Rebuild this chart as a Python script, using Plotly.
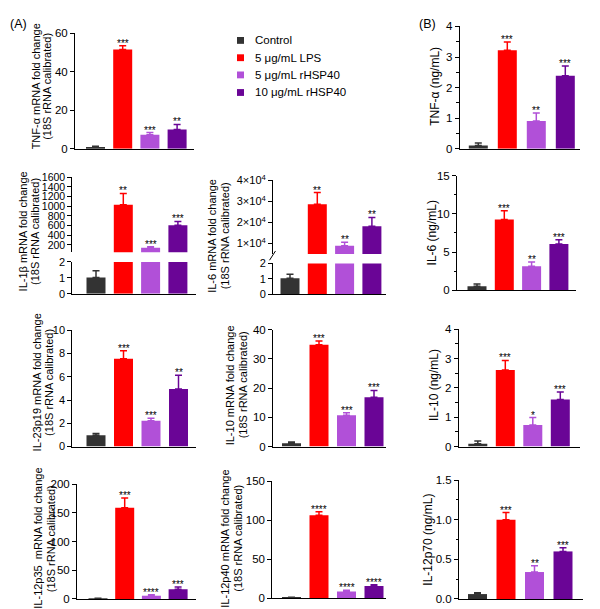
import plotly.graph_objects as go

W, H = 600, 609
FONT = "Arial, 'Liberation Sans', sans-serif"

# ---------------- data ----------------
groups = ["Control", "5 μg/mL LPS", "5 μg/mL rHSP40", "10 μg/mL rHSP40"]
colors = ["#333333", "#FF0000", "#B150D8", "#6A0596"]

tnf_mrna = [1.0, 51.6, 7.3, 10.1]
tnf_mrna_err = [0.3, 1.9, 1.2, 2.6]
tnf_mrna_sig = ["", "***", "***", "**"]

il1b_mrna = [1.02, 1028, 139, 605]
il1b_mrna_err = [0.43, 235, 25, 80]
il1b_mrna_sig = ["", "**", "***", "***"]

il6_mrna = [1.04, 28600, 8900, 18200]
il6_mrna_err = [0.26, 5600, 1600, 4200]
il6_mrna_sig = ["", "**", "**", "**"]

il23_mrna = [0.98, 7.56, 2.21, 4.96]
il23_mrna_err = [0.14, 0.68, 0.23, 1.17]
il23_mrna_sig = ["", "***", "***", "**"]

il10_mrna = [1.1, 34.8, 10.7, 16.9]
il10_mrna_err = [0.45, 1.3, 0.9, 2.3]
il10_mrna_sig = ["", "***", "***", "***"]

il12p35_mrna = [1.1, 159, 5.7, 17]
il12p35_mrna_err = [0.3, 17, 1.7, 4]
il12p35_mrna_sig = ["", "***", "****", "***"]

il12p40_mrna = [0.8, 106, 8.4, 15.5]
il12p40_mrna_err = [0.3, 4.7, 1.6, 1.6]
il12p40_mrna_sig = ["", "****", "****", "****"]

tnf_prot = [0.11, 3.22, 0.91, 2.39]
tnf_prot_err = [0.08, 0.27, 0.26, 0.32]
tnf_prot_sig = ["", "***", "**", "***"]

il6_prot = [0.51, 9.25, 3.15, 6.05]
il6_prot_err = [0.3, 1.15, 0.56, 0.55]
il6_prot_sig = ["", "***", "**", "***"]

il10_prot = [0.1, 2.61, 0.74, 1.61]
il10_prot_err = [0.09, 0.33, 0.25, 0.25]
il10_prot_sig = ["", "***", "*", "***"]

il12p70_prot = [0.062, 1.0, 0.34, 0.6]
il12p70_prot_err = [0.016, 0.09, 0.08, 0.045]
il12p70_prot_sig = ["", "***", "**", "***"]

il6_upper_ticks = [10000, 20000, 30000, 40000]
il6_upper_ticktext = ["1×10<sup>4</sup>", "2×10<sup>4</sup>", "3×10<sup>4</sup>", "4×10<sup>4</sup>"]

# ---------------- layout specs (pixel geometry) ----------------
panels = [
    dict(vals=tnf_mrna, errs=tnf_mrna_err, sig=tnf_mrna_sig,
         title=["TNF-α mRNA fold change", "(18S rRNA calibrated)"], tx=[28, 39.5], ty=72,
         xpx=(67, 186), c0=87.5, sp=27.2,
         segs=[dict(px=(17.7, 136), range=[0, 60], tickvals=[0, 20, 40, 60], fs=11.5)]),
    dict(vals=il1b_mrna, errs=il1b_mrna_err, sig=il1b_mrna_sig,
         title=["IL-1β mRNA fold change", "(18S rRNA calibrated)"], tx=[14.5, 27], ty=221,
         xpx=(64.3, 188), c0=88, sp=27.3,
         segs=[dict(px=(165, 241.7), range=[50, 1600], tickvals=[200, 400, 600, 800, 1000, 1200, 1400, 1600], fs=10.5),
               dict(px=(251.7, 284.3), range=[0, 2], tickvals=[0, 1, 2])]),
    dict(vals=il6_mrna, errs=il6_mrna_err, sig=il6_mrna_sig,
         title=["IL-6 mRNA fold change", "(18S rRNA calibrated)"], tx=[204, 216.5], ty=225,
         xpx=(265, 378), c0=282, sp=27.3, slash=True,
         segs=[dict(px=(168.3, 243.5), range=[5000, 40000], tickvals=il6_upper_ticks, ticktext=il6_upper_ticktext, fs=11),
               dict(px=(253.3, 285), range=[0, 2], tickvals=[0, 1, 2])]),
    dict(vals=il23_mrna, errs=il23_mrna_err, sig=il23_mrna_sig,
         title=["IL-23p19 mRNA fold change", "(18S rRNA calibrated)"], tx=[29, 41.5], ty=375,
         xpx=(64.3, 188), c0=88, sp=27.5,
         segs=[dict(px=(321.7, 440.7), range=[0, 10], tickvals=[0, 2, 4, 6, 8, 10])]),
    dict(vals=il10_mrna, errs=il10_mrna_err, sig=il10_mrna_sig,
         title=["IL-10 mRNA fold change", "(18S rRNA calibrated)"], tx=[222, 235], ty=378,
         xpx=(265, 378), c0=283.5, sp=27.5,
         segs=[dict(px=(321, 440.7), range=[0, 40], tickvals=[0, 10, 20, 30, 40], fs=11.5)]),
    dict(vals=il12p35_mrna, errs=il12p35_mrna_err, sig=il12p35_mrna_sig,
         title=["IL-12p35  mRNA fold change", "(18S rRNA calibrated)"], tx=[30, 42.5], ty=535,
         xpx=(69, 188), c0=90, sp=26.7,
         segs=[dict(px=(479.3, 596.7), range=[0, 200], tickvals=[0, 50, 100, 150, 200], fs=11.5)]),
    dict(vals=il12p40_mrna, errs=il12p40_mrna_err, sig=il12p40_mrna_sig,
         title=["IL-12p40 mRNA fold change", "(18S rRNA calibrated)"], tx=[217, 230], ty=535,
         xpx=(264.3, 378), c0=283.5, sp=27.5,
         segs=[dict(px=(476, 595.7), range=[0, 150], tickvals=[0, 50, 100, 150], fs=11.5)]),
    dict(vals=tnf_prot, errs=tnf_prot_err, sig=tnf_prot_sig,
         title=["TNF-α (ng/mL)"], tx=[427], ty=72.5, tfs=12,
         xpx=(451.7, 571.7), c0=470.3, sp=29,
         segs=[dict(px=(10.7, 136), range=[0, 4], dtick=1, minor=0.5, fs=11.5)]),
    dict(vals=il6_prot, errs=il6_prot_err, sig=il6_prot_sig,
         title=["IL-6 (ng/mL)"], tx=[423.5], ty=222, tfs=12,
         xpx=(449, 568), c0=469, sp=27.3,
         segs=[dict(px=(163.3, 280.7), range=[0, 15], dtick=5, minor=2.5, fs=11.5)]),
    dict(vals=il10_prot, errs=il10_prot_err, sig=il10_prot_sig,
         title=["IL-10 (ng/mL)"], tx=[426.7], ty=378, tfs=12,
         xpx=(450.7, 571.7), c0=469.8, sp=27.5,
         segs=[dict(px=(320.7, 440.7), range=[0, 4], dtick=1, minor=0.5, fs=11.5)]),
    dict(vals=il12p70_prot, errs=il12p70_prot_err, sig=il12p70_prot_sig,
         title=["IL-12p70 (ng/mL)"], tx=[420], ty=536, tfs=12,
         xpx=(451, 575), c0=469.5, sp=28.5,
         segs=[dict(px=(475, 596.7), range=[0, 1.5], dtick=0.5, minor=0.25, fmt=".1f", fs=11.5)]),
]


def fx(px):
    return px / W


def fy(py):
    return 1 - py / H


fig = go.Figure()
layout = {}
annotations = []
shapes = []
xi = 0
yi = 0
for p in panels:
    xi += 1
    xname = "x" if xi == 1 else f"x{xi}"
    xkey = "xaxis" if xi == 1 else f"xaxis{xi}"
    x0px, x1px = p["xpx"]
    xr = [(x0px - p["c0"]) / p["sp"], (x1px - p["c0"]) / p["sp"]]
    bw = 19 / p["sp"]
    ynames = []
    for si, s in enumerate(p["segs"]):
        yi += 1
        yname = "y" if yi == 1 else f"y{yi}"
        ykey = "yaxis" if yi == 1 else f"yaxis{yi}"
        ynames.append(yname)
        top, bot = s["px"]
        ax = dict(domain=[fy(bot), fy(top)], range=s["range"], anchor=xname,
                  showline=True, linecolor="black", linewidth=1,
                  ticks="outside", ticklen=4, tickwidth=1, tickcolor="black",
                  showgrid=False, zeroline=False, fixedrange=True,
                  tickfont=dict(family=FONT, size=s.get("fs", 11), color="black"))
        if "tickvals" in s:
            ax["tickmode"] = "array"
            ax["tickvals"] = s["tickvals"]
            if "ticktext" in s:
                ax["ticktext"] = s["ticktext"]
        else:
            ax["tickmode"] = "linear"
            ax["tick0"] = 0
            ax["dtick"] = s["dtick"]
            ax["minor"] = dict(ticks="outside", ticklen=2.5, tickwidth=1, tickcolor="black",
                               tick0=0, dtick=s["minor"], showgrid=False)
        if "fmt" in s:
            ax["tickformat"] = s["fmt"]
        layout[ykey] = ax

        lo, hi = s["range"]
        for g in range(4):
            v = p["vals"][g]
            e = p["errs"][g]
            show_err = (v < hi) and (v + e > lo)
            fig.add_trace(go.Bar(
                x=[g], y=[v], width=bw, xaxis=xname, yaxis=yname,
                marker=dict(color=colors[g], line=dict(width=0)),
                error_y=dict(type="data", array=[e], arrayminus=[0], symmetric=False,
                             color=colors[g], thickness=1.5, width=3.5, visible=show_err),
                name=groups[g], showlegend=False, hoverinfo="skip"))
        if si == 0:
            for g in range(4):
                if p["sig"][g]:
                    annotations.append(dict(
                        x=g, y=p["vals"][g] + p["errs"][g], xref=xname, yref=yname,
                        text=p["sig"][g], showarrow=False, xanchor="center", yanchor="bottom",
                        yshift=-5, font=dict(family=FONT, size=10, color="black")))
    layout[xkey] = dict(domain=[fx(x0px), fx(x1px)], range=xr, anchor=ynames[-1],
                        showline=True, linecolor="black", linewidth=1,
                        ticks="", showticklabels=False, showgrid=False, zeroline=False,
                        fixedrange=True)
    # axis titles
    tfs = p.get("tfs", 11)
    for line, tx in zip(p["title"], p["tx"]):
        annotations.append(dict(x=fx(tx), y=fy(p["ty"]), xref="paper", yref="paper",
                                text=line, textangle=-90, showarrow=False,
                                xanchor="center", yanchor="middle",
                                font=dict(family=FONT, size=tfs, color="black")))
    if p.get("slash"):
        shapes.append(dict(type="line", xref="paper", yref="paper",
                           x0=fx(x0px - 3.5), y0=fy(250), x1=fx(x0px + 2.5), y1=fy(240.5),
                           line=dict(color="black", width=1)))

# legend (A)
leg_y = [25, 42.7, 60.3, 78.3]
for g in range(4):
    shapes.append(dict(type="rect", xref="paper", yref="paper",
                       x0=fx(229), x1=fx(236), y0=fy(leg_y[g] + 3.5), y1=fy(leg_y[g] - 3.5),
                       fillcolor=colors[g], line=dict(width=0)))
    annotations.append(dict(x=fx(245), y=fy(leg_y[g]), xref="paper", yref="paper",
                            text=groups[g], showarrow=False, xanchor="left", yanchor="middle",
                            font=dict(family=FONT, size=11.5, color="black")))

# legend (B), rotated
legb_sq = [14, 78, 171.7, 282.7]
legb_txt = [44, 123, 225, 343]
for g in range(4):
    shapes.append(dict(type="rect", xref="paper", yref="paper",
                       x0=fx(591), x1=fx(598), y0=fy(legb_sq[g] + 3.5), y1=fy(legb_sq[g] - 3.5),
                       fillcolor=colors[g], line=dict(width=0)))
    annotations.append(dict(x=fx(595), y=fy(legb_txt[g]), xref="paper", yref="paper",
                            text=groups[g], textangle=90, showarrow=False,
                            xanchor="center", yanchor="middle",
                            font=dict(family=FONT, size=11.5, color="black")))

# panel labels
annotations.append(dict(x=fx(0), y=fy(8), xref="paper", yref="paper", text="(A)",
                        showarrow=False, xanchor="left", yanchor="middle",
                        font=dict(family=FONT, size=12.5, color="black")))
annotations.append(dict(x=fx(409), y=fy(8), xref="paper", yref="paper", text="(B)",
                        showarrow=False, xanchor="left", yanchor="middle",
                        font=dict(family=FONT, size=12.5, color="black")))

fig.update_layout(width=W, height=H, margin=dict(l=0, r=0, t=0, b=0),
                  paper_bgcolor="white", plot_bgcolor="white", barmode="overlay",
                  showlegend=False, annotations=annotations, shapes=shapes,
                  font=dict(family=FONT, color="black"), **layout)

fig.write_html("out.html", config={"displayModeBar": False})
